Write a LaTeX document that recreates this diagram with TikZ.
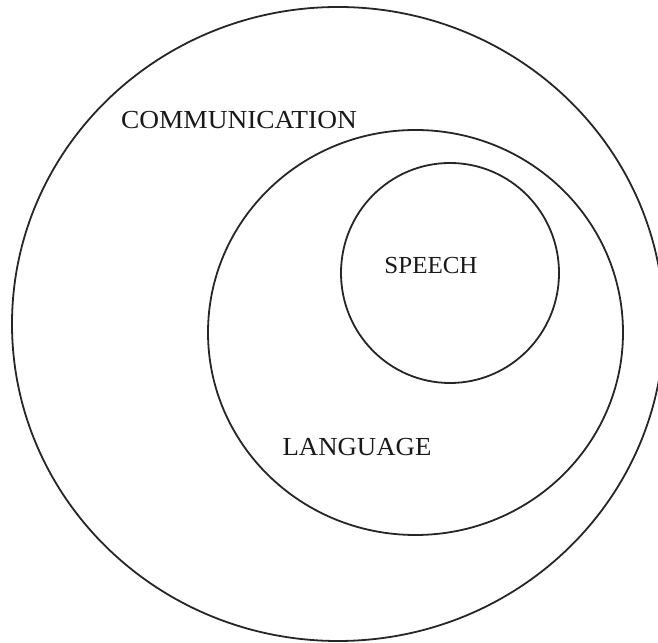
\documentclass[tikz,border=0pt]{standalone}
\usepackage{fontspec}
\setmainfont{Liberation Serif}
\tikzset{
  ring/.style={draw=black!85, line width=1.8pt},
  lbl/.style={anchor=base, inner sep=0pt, text=black!90, font=\fontsize{26pt}{31pt}\selectfont}
}
\begin{document}
\begin{tikzpicture}[x=1pt,y=1pt]
\useasboundingbox (0,0) rectangle (658,642);
\clip (0,0) rectangle (658,642);
% outer circle
\draw[ring] (338,318) ellipse [x radius=326, y radius=317];
% middle circle
\draw[ring] (415.5,309.5) ellipse [x radius=207.5, y radius=202.5];
% inner circle
\draw[ring] (450,369) ellipse [x radius=109, y radius=110];
\node[lbl, xscale=1.053] (comm) at (239,513) {COMMUNICATION};
\node[lbl, xscale=1.02, font=\fontsize{24.5pt}{29pt}\selectfont] (speech) at (431,368) {SPEECH};
\node[lbl, xscale=1.03] (lang) at (357,186) {LANGUAGE};
\end{tikzpicture}
\end{document}
